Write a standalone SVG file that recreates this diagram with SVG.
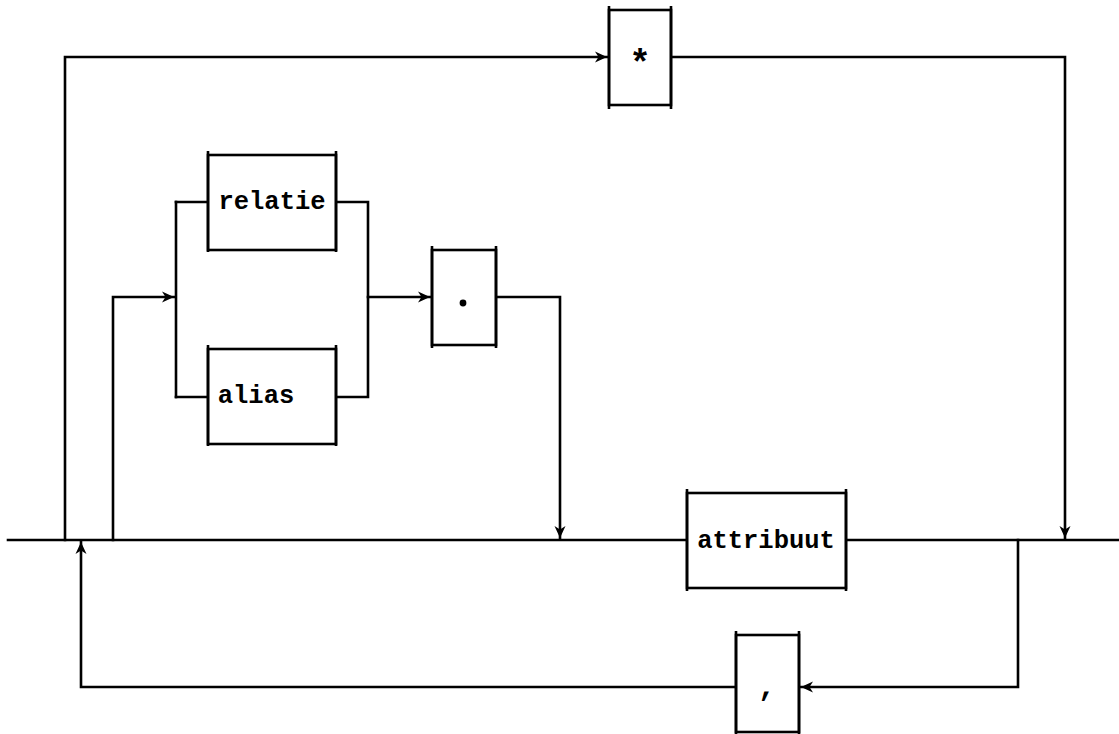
<svg xmlns="http://www.w3.org/2000/svg" width="1119" height="734" viewBox="0 0 1119 734">
<defs>
<marker id="arr" markerWidth="16" markerHeight="14" refX="13" refY="7" orient="auto" markerUnits="userSpaceOnUse">
<path d="M1,1.5 L13,7 L1,12.5 L4.5,7 Z" fill="#000"/>
</marker>
</defs>
<style>
.ln{fill:none;stroke:#000;stroke-width:2.6;stroke-linecap:square}
.bx{fill:#fff;stroke:#000;stroke-width:2.6}
.tk{stroke:#000;stroke-width:2.6}
.t{font-family:"Liberation Mono","DejaVu Sans Mono",monospace;font-size:25.5px;font-weight:bold;fill:#000}
</style>
<rect width="1119" height="734" fill="#fff"/>
<g id="connectors">
<path class="ln" d="M8,540 L687,540"/>
<path class="ln" d="M846,540 L1119,540"/>
<path class="ln" d="M65,540 L65,57 L607,57" marker-end="url(#arr)"/>
<path class="ln" d="M671,57 L1065,57 L1065,538" marker-end="url(#arr)"/>
<path class="ln" d="M113,540 L113,297 L174,297" marker-end="url(#arr)"/>
<path class="ln" d="M176,202 L176,397"/>
<path class="ln" d="M176,202 L208,202"/>
<path class="ln" d="M176,397 L208,397"/>
<path class="ln" d="M336,202 L368,202 L368,397 L336,397"/>
<path class="ln" d="M368,297 L430,297" marker-end="url(#arr)"/>
<path class="ln" d="M496,297 L560,297 L560,538" marker-end="url(#arr)"/>
<path class="ln" d="M1018,540 L1018,687 L801,687" marker-end="url(#arr)"/>
<path class="ln" d="M736,687 L81,687 L81,542" marker-end="url(#arr)"/>
</g>
<g id="star">
<rect class="bx" x="609" y="10" width="62" height="95"/>
<path class="tk" d="M609,6 V109 M671,6 V109"/>
<text class="t" x="640" y="75" text-anchor="middle" style="font-size:36px">*</text>
</g>
<g id="relatie">
<rect class="bx" x="208" y="155" width="128" height="95"/>
<path class="tk" d="M208,151 V252 M336,151 V252"/>
<text class="t" x="272" y="209" text-anchor="middle">relatie</text>
</g>
<g id="alias">
<rect class="bx" x="208" y="349" width="128" height="95"/>
<path class="tk" d="M208,345 V446 M336,345 V446"/>
<text class="t" x="256" y="403" text-anchor="middle">alias</text>
</g>
<g id="dot">
<rect class="bx" x="432" y="250" width="64" height="95"/>
<path class="tk" d="M432,246 V348 M496,246 V348"/>
<circle cx="463" cy="303" r="3.4" fill="#000"/>
</g>
<g id="attribuut">
<rect class="bx" x="687" y="493" width="159" height="95"/>
<path class="tk" d="M687,489 V591 M846,489 V591"/>
<text class="t" x="766" y="548" text-anchor="middle">attribuut</text>
</g>
<g id="comma">
<rect class="bx" x="736" y="635" width="63" height="97"/>
<path class="tk" d="M736,631 V734 M799,631 V734"/>
<text class="t" x="767" y="696" text-anchor="middle" style="font-size:30px">,</text>
</g>
</svg>
